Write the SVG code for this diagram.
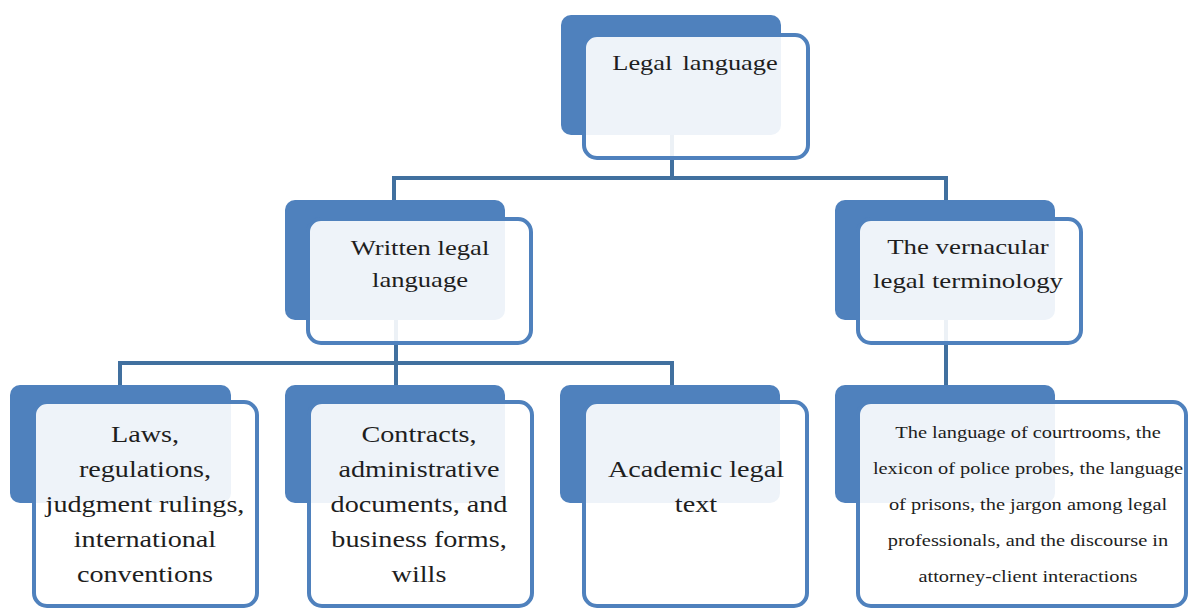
<svg xmlns="http://www.w3.org/2000/svg" width="1190" height="608" viewBox="0 0 1190 608">
<style>
.back{fill:#4F81BD;}
.front{fill:#FFFFFF;fill-opacity:0.9;stroke:#4F81BD;stroke-width:4;}
.conn{fill:none;stroke:#41709F;stroke-width:4;}
.t{font-family:"Liberation Serif","Times New Roman",serif;fill:#1E1E1E;text-anchor:middle;}
.l1{font-size:22px;word-spacing:3px;}
.l2{font-size:22px;}
.l3{font-size:23.5px;}
.l4{font-size:17px;}
</style>
<rect width="1190" height="608" fill="#FFFFFF"/>
<g id="connectors">
<path class="conn" d="M672,135 V178 M394,178 H946 M394,176 V200 M946,176 V200"/>
<path class="conn" d="M396,320 V363 M120,363 H672 M120,361 V385 M396,361 V385 M672,361 V385"/>
<path class="conn" d="M946,320 V385"/>
</g>
<g id="legal-language">
<rect class="back" x="561" y="15" width="220" height="120" rx="10"/>
<rect class="front" x="584" y="35" width="224" height="123" rx="13"/>
<text class="t l1" transform="translate(695,70) scale(1.2,1)">Legal language</text>
</g>
<g id="written-legal-language">
<rect class="back" x="285" y="200" width="220" height="120" rx="10"/>
<rect class="front" x="308" y="219" width="223" height="124" rx="13"/>
<text class="t l2" transform="translate(420,255) scale(1.21,1)"><tspan x="0" y="0">Written legal</tspan><tspan x="0" y="32">language</tspan></text>
</g>
<g id="vernacular-legal-terminology">
<rect class="back" x="835" y="200" width="220" height="120" rx="10"/>
<rect class="front" x="858" y="219" width="223" height="124" rx="13"/>
<text class="t l2" transform="translate(968,254) scale(1.22,1)"><tspan x="0" y="0">The vernacular</tspan><tspan x="0" y="34">legal terminology</tspan></text>
</g>
<g id="laws">
<rect class="back" x="10" y="385" width="221" height="118" rx="10"/>
<rect class="front" x="34" y="402" width="223" height="204" rx="13"/>
<text class="t l3" transform="translate(145,442) scale(1.2,1)"><tspan x="0" y="0">Laws,</tspan><tspan x="0" y="35">regulations,</tspan><tspan x="0" y="70">judgment rulings,</tspan><tspan x="0" y="105">international</tspan><tspan x="0" y="140">conventions</tspan></text>
</g>
<g id="contracts">
<rect class="back" x="285" y="385" width="220" height="118" rx="10"/>
<rect class="front" x="309" y="402" width="223" height="204" rx="13"/>
<text class="t l3" transform="translate(419,442) scale(1.2,1)"><tspan x="0" y="0">Contracts,</tspan><tspan x="0" y="35">administrative</tspan><tspan x="0" y="70">documents, and</tspan><tspan x="0" y="105">business forms,</tspan><tspan x="0" y="140">wills</tspan></text>
</g>
<g id="academic">
<rect class="back" x="560" y="385" width="220" height="118" rx="10"/>
<rect class="front" x="584" y="402" width="223" height="204" rx="13"/>
<text class="t l3" transform="translate(696,477) scale(1.2,1)"><tspan x="0" y="0">Academic legal</tspan><tspan x="0" y="35">text</tspan></text>
</g>
<g id="vernacular-examples">
<rect class="back" x="835" y="385" width="220" height="118" rx="10"/>
<rect class="front" x="858" y="402" width="328" height="204" rx="13"/>
<text class="t l4" transform="translate(1028,438) scale(1.2,1)"><tspan x="0" y="0">The language of courtrooms, the</tspan><tspan x="0" y="36">lexicon of police probes, the language</tspan><tspan x="0" y="72">of prisons, the jargon among legal</tspan><tspan x="0" y="108">professionals, and the discourse in</tspan><tspan x="0" y="144">attorney-client interactions</tspan></text>
</g>
</svg>
